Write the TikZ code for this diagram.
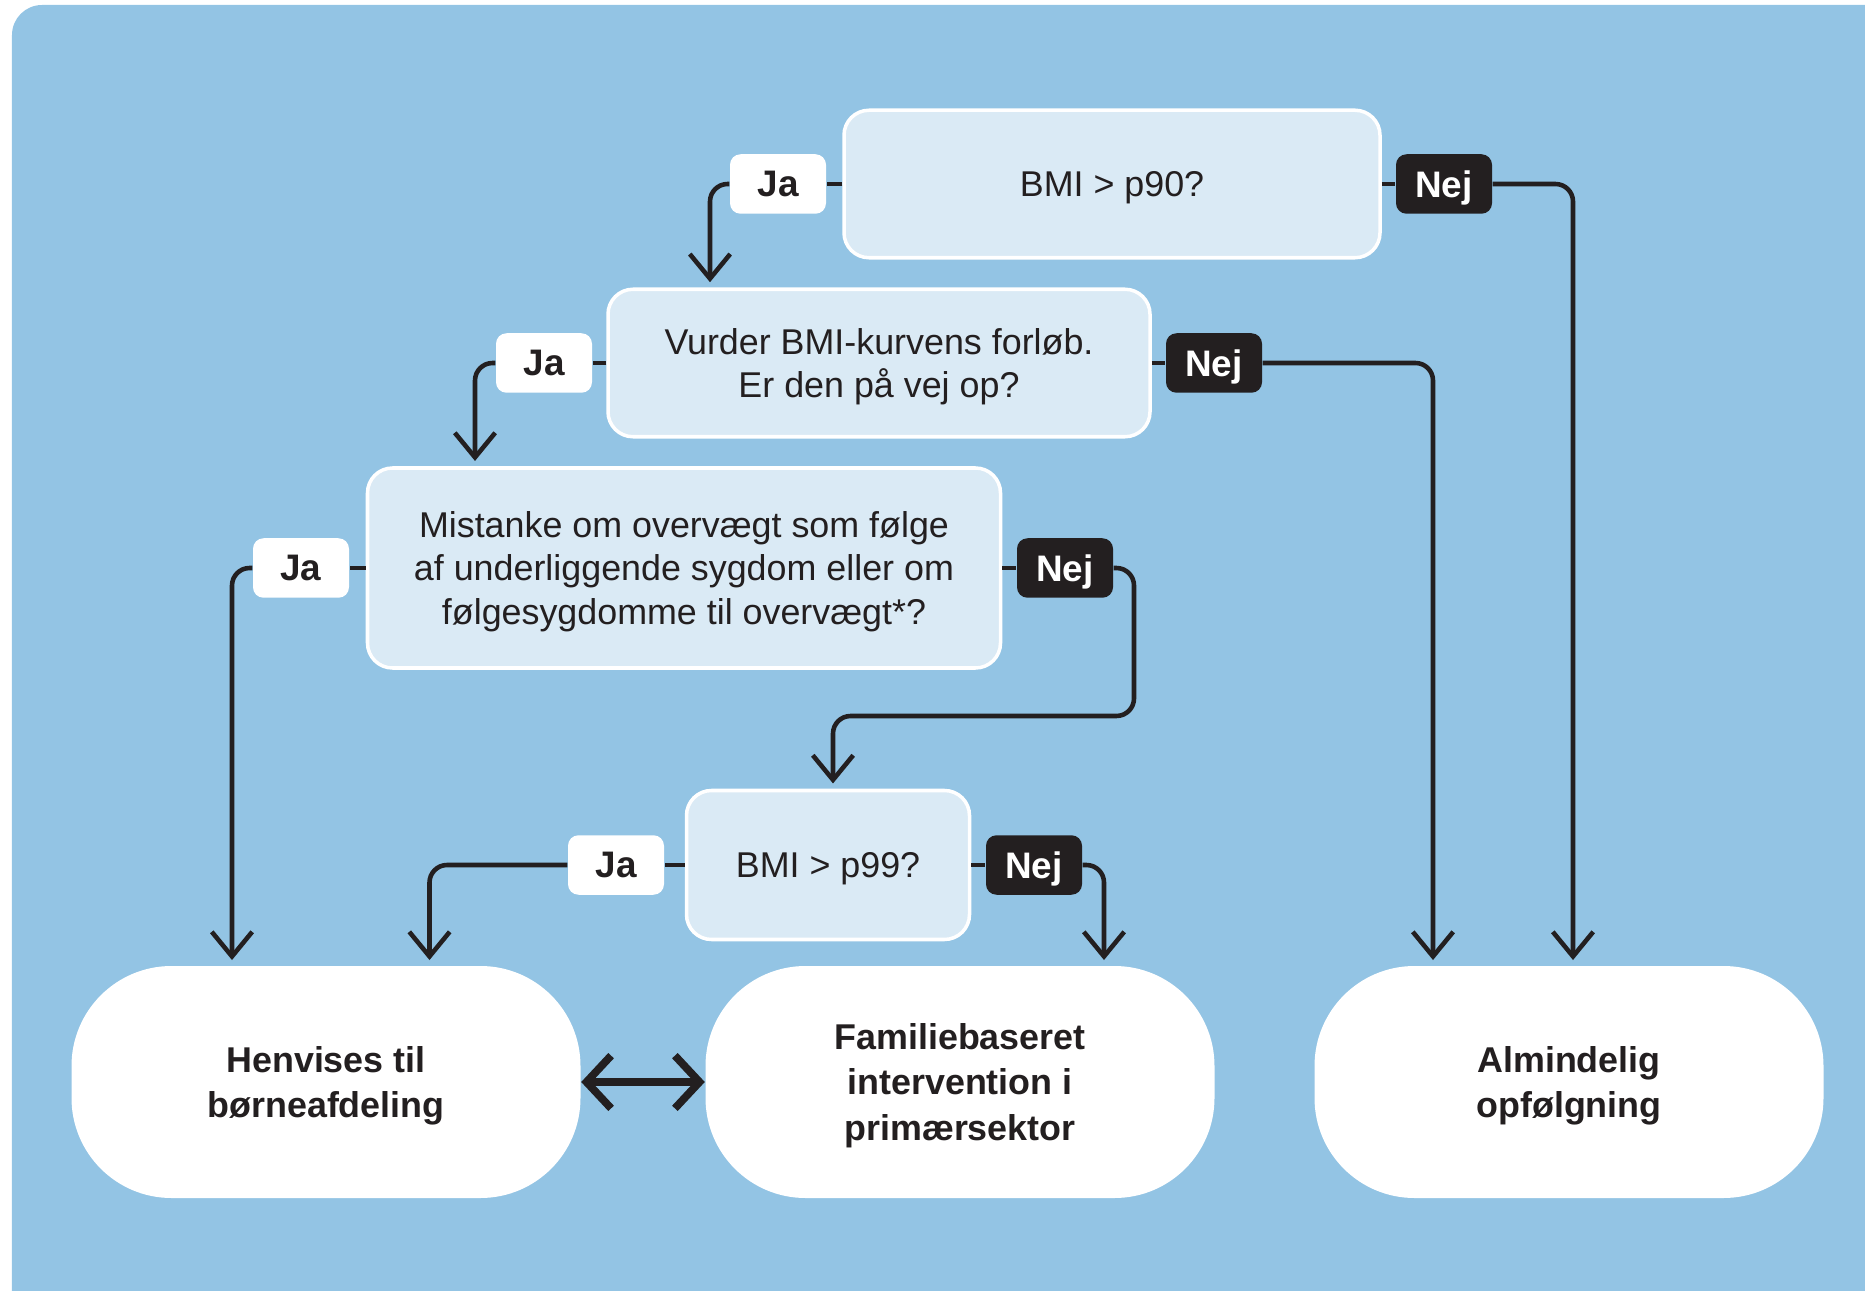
\documentclass[tikz,border=0pt]{standalone}
\usepackage{fontspec}
\setmainfont{Liberation Sans}
\usetikzlibrary{positioning}
\usetikzlibrary{arrows.meta}

\definecolor{bgblue}{RGB}{147,196,228}
\definecolor{boxblue}{RGB}{218,234,245}
\definecolor{inkblack}{RGB}{35,31,32}

\tikzset{
  qbox/.style={draw=white, line width=1pt, fill=boxblue, rounded corners=0.25cm,
    align=center, text=inkblack, text depth=0pt, font=\fontsize{10.2}{12.4}\selectfont},
  jabox/.style={fill=white, rounded corners=3pt, minimum width=0.96cm, minimum height=0.595cm,
    text=inkblack, text depth=0pt, font=\fontsize{10.5}{12}\selectfont\bfseries},
  nejbox/.style={jabox, fill=inkblack, text=white},
  endbox/.style={fill=white, rounded corners=1cm, minimum width=5.09cm, minimum height=2.32cm,
    align=center, text=inkblack, text depth=0pt, font=\fontsize{10.2}{13}\selectfont\bfseries},
  conn/.style={draw=inkblack, line width=1.3pt, rounded corners=5pt},
  arr/.style={conn, -{Straight Barb[length=7pt,width=11.5pt]}, shorten >=1.5pt}
}

\begin{document}
\begin{tikzpicture}

  \clip (0,0) rectangle (18.65,-12.91);
  \fill[bgblue, rounded corners=0.3cm] (0.12,-0.05) rectangle (19.5,-13.5);

  % questions
  \node[qbox, minimum width=5.36cm, minimum height=1.475cm] (p90) at (11.12,-1.84) {BMI > p90?};
  \node[qbox, minimum width=5.42cm, minimum height=1.475cm] (vurder) at (8.79,-3.63)
    {Vurder BMI-kurvens forløb.\\Er den på vej op?};
  \node[qbox, minimum width=6.33cm, minimum height=2.0cm] (mistanke) at (6.84,-5.68)
    {Mistanke om overvægt som følge\\af underliggende sygdom eller om\\følgesygdomme til overvægt*?};
  \node[qbox, minimum width=2.83cm, minimum height=1.49cm] (p99) at (8.28,-8.65) {BMI > p99?};

  % outcomes
  \node[endbox] (henvises) at (3.26,-10.82) {Henvises til\\børneafdeling};
  \node[endbox] (familie) at (9.60,-10.82) {Familiebaseret\\intervention i\\primærsektor};
  \node[endbox] (almindelig) at (15.69,-10.82) {Almindelig\\opfølgning};

  % answers
  \node[jabox] (ja1) at (7.78,-1.84) {Ja};
  \node[nejbox] (nej1) at (14.44,-1.84) {Nej};
  \node[jabox] (ja2) at (5.44,-3.63) {Ja};
  \node[nejbox] (nej2) at (12.14,-3.63) {Nej};
  \node[jabox] (ja3) at (3.01,-5.68) {Ja};
  \node[nejbox] (nej3) at (10.65,-5.68) {Nej};
  \node[jabox] (ja4) at (6.16,-8.65) {Ja};
  \node[nejbox] (nej4) at (10.34,-8.65) {Nej};

  \coordinate (bend) at (11.34,-7.16);

  % connectors
  \draw[conn] (p90.west) -- (ja1.east);
  \draw[conn] (p90.east) -- (nej1.west);
  \draw[arr] (ja1.west) -| ([xshift=-1.69cm]vurder.north);
  \draw[arr] (nej1.east) -| ([xshift=0.04cm]almindelig.north);

  \draw[conn] (vurder.west) -- (ja2.east);
  \draw[conn] (vurder.east) -- (nej2.west);
  \draw[arr] (ja2.west) -| ([xshift=-2.09cm]mistanke.north);
  \draw[arr] (nej2.east) -| ([xshift=-1.36cm]almindelig.north);

  \draw[conn] (mistanke.west) -- (ja3.east);
  \draw[conn] (mistanke.east) -- (nej3.west);
  \draw[arr] (ja3.west) -| ([xshift=-0.94cm]henvises.north);
  \draw[arr] (nej3.east) -| (bend) -| ([xshift=0.05cm]p99.north);

  \draw[conn] (p99.west) -- (ja4.east);
  \draw[conn] (p99.east) -- (nej4.west);
  \draw[arr] (ja4.west) -| ([xshift=1.035cm]henvises.north);
  \draw[arr] (nej4.east) -| ([xshift=1.44cm]familie.north);

  \draw[draw=inkblack, line width=2.2pt, {Straight Barb[length=7pt,width=15pt]}-{Straight Barb[length=7pt,width=15pt]}]
    (henvises.east) -- (familie.west);

\end{tikzpicture}
\end{document}
